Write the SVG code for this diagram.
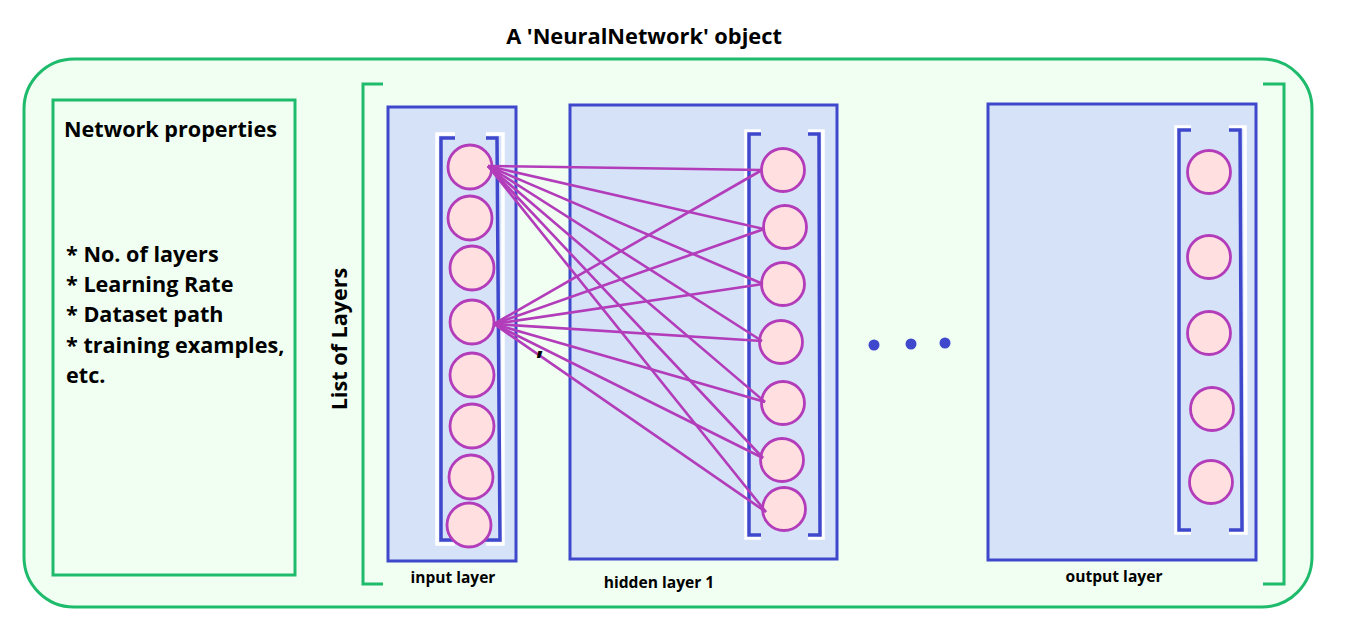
<svg xmlns="http://www.w3.org/2000/svg" width="1350" height="629" viewBox="0 0 1350 629">
<style>
.t{font-family:"Open Sans","Noto Sans",sans-serif;font-weight:700;fill:#000}
.grn{fill:none;stroke:#1fbb6c;stroke-width:3}
.layer{fill:#d6e2f8;stroke:#3f48cc;stroke-width:3}
.br{fill:none;stroke:#3f48cc;stroke-width:3.5}
.brw{fill:none;stroke:#ffffff;stroke-width:3.5}
.node{fill:#ffdfe0;stroke:#b23cba;stroke-width:2.8}
.edge{stroke:#b23cba;stroke-width:2.6;fill:none}
.dot{fill:#3f48cc}
</style>
<rect width="1350" height="629" fill="#ffffff"/>
<text class="t" x="644" y="44" font-size="21.8" text-anchor="middle">A 'NeuralNetwork' object</text>
<g id="container">
<rect x="24" y="59" width="1288" height="548" rx="50" ry="50" fill="#f0fff1" stroke="#1fbb6c" stroke-width="3"/>
</g>
<g id="props">
<rect x="53" y="100" width="242" height="475" class="grn"/>
<text class="t" x="64" y="137" font-size="21.6">Network properties</text>
<text class="t" font-size="21.6"><tspan x="66" y="262">* No. of layers</tspan><tspan x="66" y="292">* Learning Rate</tspan><tspan x="66" y="322">* Dataset path</tspan><tspan x="66" y="353">* training examples,</tspan><tspan x="66" y="383">etc.</tspan></text>
</g>
<g id="list-bracket">
<polyline class="grn" points="383,84 363,84 363,584 383,584"/>
<polyline class="grn" points="1263,84 1284,84 1284,584 1263,584"/>
<text class="t" font-size="21.6" transform="translate(347,339) rotate(-90)" text-anchor="middle">List of Layers</text>
</g>
<g id="input-layer">
<rect x="388" y="107" width="128" height="454" class="layer"/>
<polyline class="brw" points="455,134 437,134 437,544 455,544"/>
<polyline class="brw" points="486,134 503,134 503,544 486,544"/>
<polyline class="br" points="455,138 441,138 441,540 458,540"/>
<polyline class="br" points="486,138 497,138 500,540 484,540"/>
<circle class="node" cx="470" cy="167" r="22"/>
<circle class="node" cx="470" cy="218" r="22"/>
<circle class="node" cx="472" cy="268" r="22"/>
<circle class="node" cx="472" cy="322" r="22"/>
<circle class="node" cx="472" cy="375" r="22"/>
<circle class="node" cx="472" cy="426" r="22"/>
<circle class="node" cx="471" cy="477" r="22"/>
<circle class="node" cx="469" cy="525" r="22"/>
<text class="t" x="453" y="583" font-size="15.5" text-anchor="middle">input layer</text>
</g>
<g id="hidden-layer-1">
<rect x="570" y="105" width="267" height="454" class="layer"/>
<polyline class="brw" points="761,131 746,131 746,538 761,538"/>
<polyline class="brw" points="808,131 823,131 823,538 808,538"/>
<polyline class="br" points="761,134 749,134 749,535 761,535"/>
<polyline class="br" points="808,134 819,134 820,535 808,535"/>
<circle class="node" cx="783" cy="170" r="21.5"/>
<circle class="node" cx="785" cy="227" r="21.5"/>
<circle class="node" cx="783" cy="284" r="21.5"/>
<circle class="node" cx="781" cy="342" r="21.5"/>
<circle class="node" cx="783" cy="403" r="21.5"/>
<circle class="node" cx="782" cy="460" r="21.5"/>
<circle class="node" cx="784" cy="509" r="21.5"/>
<text class="t" x="659" y="588" font-size="15.6" text-anchor="middle">hidden layer 1</text>
</g>
<g id="output-layer">
<rect x="988" y="104" width="268" height="456" class="layer"/>
<polyline class="brw" points="1191,127 1176,127 1176,533 1191,533"/>
<polyline class="brw" points="1229,127 1245,127 1246,533 1229,533"/>
<polyline class="br" points="1191,130 1179,130 1179,530 1191,530"/>
<polyline class="br" points="1229,130 1240,130 1242,530 1229,530"/>
<circle class="node" cx="1209" cy="172" r="21.5"/>
<circle class="node" cx="1209" cy="257" r="21.5"/>
<circle class="node" cx="1209" cy="333" r="21.5"/>
<circle class="node" cx="1212" cy="409" r="21.5"/>
<circle class="node" cx="1211" cy="482" r="21.5"/>
<text class="t" x="1114" y="582" font-size="15.6" text-anchor="middle">output layer</text>
</g>
<g id="connectors">
<line class="edge" x1="488" y1="166" x2="762" y2="170"/>
<line class="edge" x1="488" y1="166" x2="764" y2="229"/>
<line class="edge" x1="488" y1="166" x2="763" y2="284"/>
<line class="edge" x1="488" y1="166" x2="762" y2="341"/>
<line class="edge" x1="488" y1="166" x2="765" y2="402"/>
<line class="edge" x1="488" y1="166" x2="763" y2="458"/>
<line class="edge" x1="488" y1="166" x2="766" y2="512"/>
<line class="edge" x1="494" y1="324" x2="762" y2="170"/>
<line class="edge" x1="494" y1="324" x2="764" y2="229"/>
<line class="edge" x1="494" y1="324" x2="763" y2="284"/>
<line class="edge" x1="494" y1="324" x2="762" y2="341"/>
<line class="edge" x1="494" y1="324" x2="765" y2="402"/>
<line class="edge" x1="494" y1="324" x2="763" y2="458"/>
<line class="edge" x1="494" y1="324" x2="766" y2="512"/>
</g>
<text class="t" x="536" y="354" font-size="28">,</text>
<g id="ellipsis">
<circle class="dot" cx="874" cy="345" r="5.5"/>
<circle class="dot" cx="911" cy="344" r="5.5"/>
<circle class="dot" cx="945" cy="343" r="5.5"/>
</g>
</svg>
